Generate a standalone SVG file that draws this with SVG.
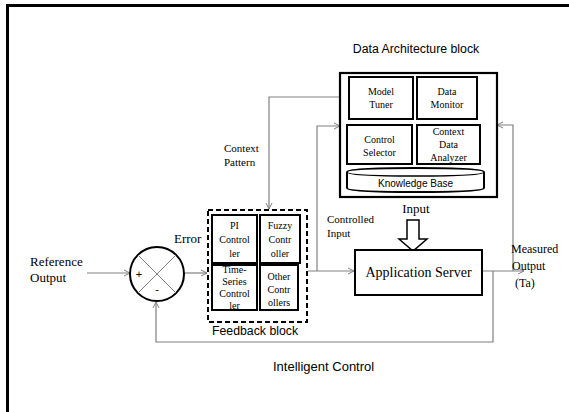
<svg xmlns="http://www.w3.org/2000/svg" width="569" height="412" viewBox="0 0 569 412">
<style>
.serif{font-family:"Liberation Serif","Times New Roman",serif;fill:#000}
.sans{font-family:"Liberation Sans",Arial,sans-serif;fill:#000}
.box{fill:#fff;stroke:#000;stroke-width:2}
.conn{fill:none;stroke:#808080;stroke-width:1.2}
</style>
<defs>
<marker id="arr" markerWidth="8" markerHeight="8" refX="7" refY="4" orient="auto" markerUnits="userSpaceOnUse">
<path d="M1,1 L7,4 L1,7" fill="none" stroke="#808080" stroke-width="1"/>
</marker>
</defs>
<rect width="569" height="412" fill="#fff"/>
<g id="frame">
<line x1="7.5" y1="5" x2="7.5" y2="412" stroke="#000" stroke-width="3"/>
<line x1="6" y1="5.5" x2="569" y2="5.5" stroke="#000" stroke-width="3"/>
</g>
<g id="connectors">
<line class="conn" x1="87" y1="273" x2="130" y2="273" marker-end="url(#arr)"/>
<line class="conn" x1="184" y1="273" x2="207" y2="273" marker-end="url(#arr)"/>
<polyline class="conn" points="340,97 269,97 269,209" marker-end="url(#arr)"/>
<line class="conn" x1="308" y1="271" x2="354" y2="271" marker-end="url(#arr)"/>
<polyline class="conn" points="317,271 317,126 340,126" marker-end="url(#arr)"/>
<line class="conn" x1="482" y1="271" x2="524" y2="271" marker-end="url(#arr)"/>
<polyline class="conn" points="513,271 513,125 497,125" marker-end="url(#arr)"/>
<polyline class="conn" points="493,271 493,342 156,342 156,302" marker-end="url(#arr)"/>
</g>
<g id="sum">
<circle cx="157" cy="274" r="27" fill="#fff" stroke="#000" stroke-width="2"/>
<line x1="138" y1="255" x2="176" y2="293" stroke="#808080" stroke-width="1"/>
<line x1="176" y1="255" x2="138" y2="293" stroke="#808080" stroke-width="1"/>
<text class="sans" x="139" y="278" font-size="11" text-anchor="middle">+</text>
<text class="sans" x="157" y="293" font-size="11" text-anchor="middle">-</text>
</g>
<g id="reference-output">
<text class="serif" x="30" y="266" font-size="13">Reference</text>
<text class="serif" x="30" y="282" font-size="13">Output</text>
</g>
<g id="error-label">
<text class="serif" x="174" y="243" font-size="13">Error</text>
</g>
<g id="context-pattern">
<text class="serif" x="224" y="152" font-size="11">Context</text>
<text class="serif" x="224" y="166" font-size="11">Pattern</text>
</g>
<g id="data-architecture-block">
<text class="sans" x="416" y="53" font-size="12.3" text-anchor="middle">Data Architecture block</text>
<rect x="340" y="73" width="157" height="124" fill="#fff" stroke="#000" stroke-width="2.2"/>
<g id="model-tuner">
<rect class="box" x="349" y="77" width="64" height="42"/>
<text class="serif" x="381" y="95" font-size="10" text-anchor="middle">Model</text>
<text class="serif" x="381" y="108" font-size="10" text-anchor="middle">Tuner</text>
</g>
<g id="data-monitor">
<rect class="box" x="417" y="77" width="60" height="42"/>
<text class="serif" x="447" y="95" font-size="10" text-anchor="middle">Data</text>
<text class="serif" x="447" y="108" font-size="10" text-anchor="middle">Monitor</text>
</g>
<g id="control-selector">
<rect class="box" x="347" y="125" width="65" height="39"/>
<text class="serif" x="379.5" y="143" font-size="10" text-anchor="middle">Control</text>
<text class="serif" x="379.5" y="156" font-size="10" text-anchor="middle">Selector</text>
</g>
<g id="context-data-analyzer">
<rect class="box" x="417" y="125" width="63" height="39"/>
<text class="serif" x="448.5" y="135" font-size="10" text-anchor="middle">Context</text>
<text class="serif" x="448.5" y="148" font-size="10" text-anchor="middle">Data</text>
<text class="serif" x="448.5" y="161" font-size="10" text-anchor="middle">Analyzer</text>
</g>
<g id="knowledge-base">
<path d="M347,172 Q347,168 415.5,168 Q484,168 484,172 L484,188 Q484,192 415.5,192 Q347,192 347,188 Z" fill="#fff" stroke="#000" stroke-width="2"/>
<path d="M347,172 Q347,176 415.5,176 Q484,176 484,172" fill="none" stroke="#000" stroke-width="1.5"/>
<text class="sans" x="415.5" y="186.5" font-size="10" text-anchor="middle">Knowledge Base</text>
</g>
</g>
<g id="feedback-block">
<rect x="208" y="210" width="99" height="112" fill="#fff" stroke="#000" stroke-width="2" stroke-dasharray="5,3"/>
<text class="sans" x="212" y="335" font-size="12.3">Feedback block</text>
<g id="pi-controller">
<rect class="box" x="212" y="215" width="45" height="48"/>
<text class="serif" x="234.5" y="229" font-size="10" text-anchor="middle">PI</text>
<text class="serif" x="234.5" y="243" font-size="10" text-anchor="middle">Control</text>
<text class="serif" x="234.5" y="257" font-size="10" text-anchor="middle">ler</text>
</g>
<g id="fuzzy-controller">
<rect class="box" x="260" y="215" width="40" height="48"/>
<text class="serif" x="280" y="229" font-size="10" text-anchor="middle">Fuzzy</text>
<text class="serif" x="280" y="243" font-size="10" text-anchor="middle">Contr</text>
<text class="serif" x="280" y="257" font-size="10" text-anchor="middle">oller</text>
</g>
<g id="time-series-controller">
<rect class="box" x="212" y="265" width="45" height="45"/>
<text class="serif" x="234.5" y="273" font-size="10" text-anchor="middle">Time-</text>
<text class="serif" x="234.5" y="285" font-size="10" text-anchor="middle">Series</text>
<text class="serif" x="234.5" y="297" font-size="10" text-anchor="middle">Control</text>
<text class="serif" x="234.5" y="309" font-size="10" text-anchor="middle">ler</text>
</g>
<g id="other-controllers">
<rect class="box" x="260" y="265" width="38" height="45"/>
<text class="serif" x="279" y="280" font-size="10" text-anchor="middle">Other</text>
<text class="serif" x="279" y="293" font-size="10" text-anchor="middle">Contr</text>
<text class="serif" x="279" y="306" font-size="10" text-anchor="middle">ollers</text>
</g>
</g>
<g id="controlled-input-label">
<text class="serif" x="327" y="223" font-size="11">Controlled</text>
<text class="serif" x="327" y="237" font-size="11">Input</text>
</g>
<g id="input">
<text class="serif" x="416" y="213" font-size="13" text-anchor="middle">Input</text>
<path d="M407,220 L419,220 L419,239 L427,239 L413,251 L399,239 L407,239 Z" fill="#fff" stroke="#000" stroke-width="1.5"/>
</g>
<g id="application-server">
<rect class="box" x="355" y="250" width="127" height="45"/>
<text class="serif" x="418.5" y="277" font-size="14" text-anchor="middle">Application Server</text>
</g>
<g id="measured-output">
<text class="serif" x="511" y="253" font-size="12">Measured</text>
<text class="serif" x="512" y="270" font-size="12">Output</text>
<text class="serif" x="515" y="287" font-size="12">(Ta)</text>
</g>
<g id="intelligent-control">
<text class="sans" x="273" y="371" font-size="13">Intelligent Control</text>
</g>
</svg>
